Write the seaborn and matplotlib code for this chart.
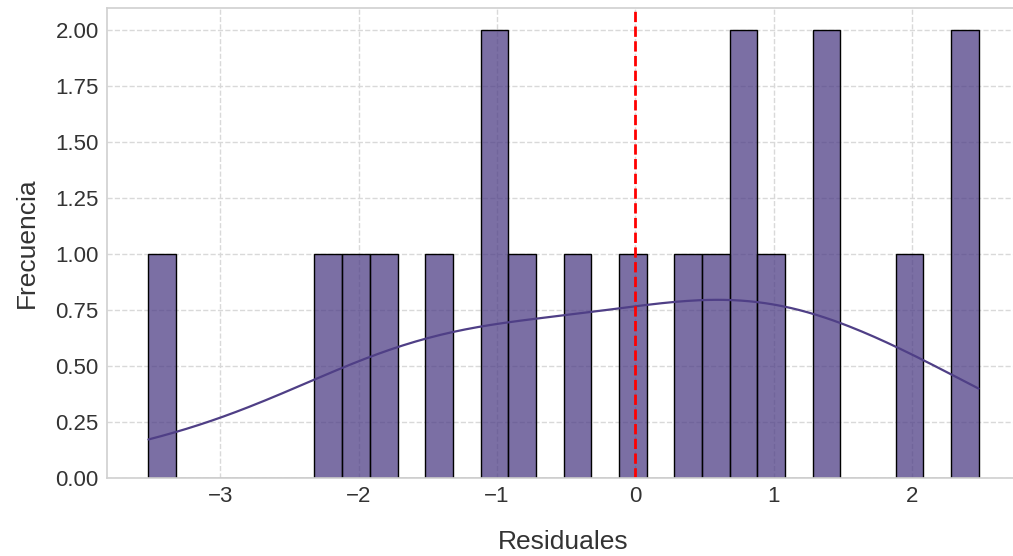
import numpy as np
import pandas as pd
import matplotlib
matplotlib.use("Agg")
import matplotlib.pyplot as plt
import seaborn as sns

# Model residuals
residuales = [-3.52, -2.25, -2.05, -1.86, -1.41, -1.08, -0.98, -0.79, -0.40, -0.05,
              0.41, 0.55, 0.72, 0.81, 0.93, 1.30, 1.42, 1.95, 2.35, 2.48]
n_bins = 30

sns.set_theme(style="whitegrid")
plt.rcParams["font.family"] = ["Liberation Sans", "DejaVu Sans"]

fig = plt.figure(figsize=(10.13, 5.56), dpi=100)
ax = fig.add_axes([0.1056, 0.1403, 0.9014, 0.8453])

df = pd.DataFrame({"Residuales": residuales})
sns.histplot(data=df, x="Residuales", bins=n_bins, kde=True, ax=ax,
             color="#4f3f86", alpha=0.75, edgecolor="black", linewidth=1.0,
             line_kws={"linewidth": 1.6})
ax.axvline(0, color="red", linestyle="--", linewidth=2)

ax.grid(True, linestyle="--", color="#d9d9d9", linewidth=1.0)
ax.set_axisbelow(True)
for s in ax.spines.values():
    s.set_color("#d0d0d0")
    s.set_linewidth(1.2)

ax.set_yticks(np.arange(0, 2.01, 0.25))
ax.set_yticklabels([f"{v:.2f}" for v in np.arange(0, 2.01, 0.25)])
ax.tick_params(axis="both", labelsize=16, colors="#333333", length=0, pad=6)
ax.set_xlabel("Residuales", fontsize=19, color="#333333", labelpad=16)
ax.set_ylabel("Frecuencia", fontsize=19, color="#333333", labelpad=12)

fig.savefig("out.png", dpi=100)
